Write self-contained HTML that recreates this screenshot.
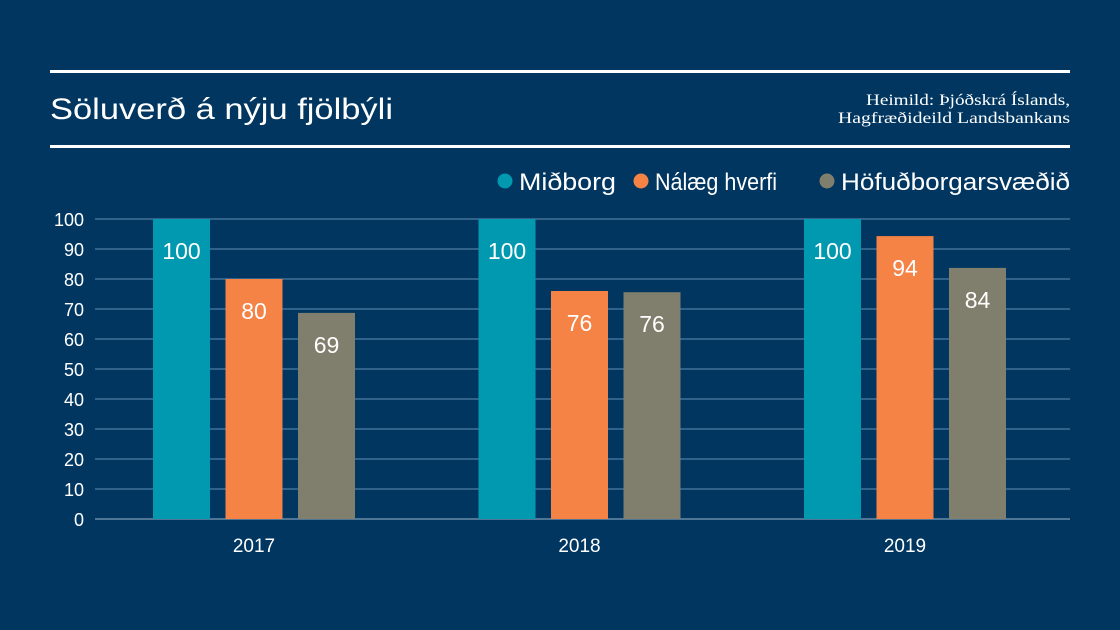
<!DOCTYPE html>
<html><head><meta charset="utf-8"><style>
html,body{margin:0;padding:0;background:#003660;}
body{width:1120px;height:630px;overflow:hidden;position:relative;font-family:"Liberation Sans","DejaVu Sans",sans-serif;color:#fff;}
</style></head><body>
<svg width="1120" height="630" style="position:absolute;left:0;top:0">
<rect width="1120" height="630" fill="#003660"/>
<rect x="50" y="70" width="1020" height="3" fill="#fff"/>
<rect x="50" y="145" width="1020" height="3" fill="#fff"/>
<text x="50" y="119" font-size="30" fill="#fff" textLength="343" lengthAdjust="spacingAndGlyphs">Söluverð á nýju fjölbýli</text>
<text x="1070" y="105" font-size="16" fill="#fff" text-anchor="end" textLength="204" lengthAdjust="spacingAndGlyphs" font-family="Liberation Serif, serif">Heimild: Þjóðskrá Íslands,</text>
<text x="1070" y="123" font-size="16" fill="#fff" text-anchor="end" textLength="232" lengthAdjust="spacingAndGlyphs" font-family="Liberation Serif, serif">Hagfræðideild Landsbankans</text>
<g id="legend"></g>
<g id="grid"></g>
<g id="bars"></g>
<g id="xaxis"></g>
</svg>
<script>
const categories=["2017","2018","2019"];
const seriesNames=["Miðborg","Nálæg hverfi","Höfuðborgarsvæðið"];
const midborg=[100,100,100];
const nalaeg=[80,76,94.3];
const hofud=[68.7,75.6,83.7];
const yTicks=[0,10,20,30,40,50,60,70,80,90,100];
const colors=["#0099b0","#f58346","#807e6c"];
const series=[midborg,nalaeg,hofud];
const NS="http://www.w3.org/2000/svg";
function y(v){return 519-v*3;}
function xc(i){return 254+i*325.5;}
function mk(t,a,p){const e=document.createElementNS(NS,t);for(const k in a)e.setAttribute(k,a[k]);p.appendChild(e);return e;}
const grid=document.getElementById('grid');
yTicks.forEach(t=>{
 const l=mk('rect',{x:95,y:y(t)-0.5,width:975,height:1,fill:t===0?'#9fb6cc':'#5f8fb5'},grid);
 
 
 const tx=mk('text',{x:84,y:y(t)+7,'font-size':18,fill:'#fff','text-anchor':'end'},grid);
 tx.textContent=t;
 
 
});
const bars=document.getElementById('bars');
const bw=57, step=72.5;
categories.forEach((c,i)=>{
 series.forEach((s,j)=>{
  const x=xc(i)+(j-1)*step-bw/2;
  const r=mk('rect',{x:x,y:y(s[i]),width:bw,height:s[i]*3,fill:colors[j]},bars);
  
  
  const t=mk('text',{x:x+bw/2,y:y(s[i])+40,'font-size':23,fill:'#fff','text-anchor':'middle'},bars);
  t.textContent=Math.round(s[i]);
  
  
 });
 const xt=mk('text',{x:xc(i),y:552,'font-size':19,fill:'#fff','text-anchor':'middle'},document.getElementById('xaxis'));
 xt.textContent=c;
 
 
});
const leg=document.getElementById('legend');
const lx=[505,641,827];
const lw=[97,122,229];
seriesNames.forEach((n,j)=>{
 const c=mk('circle',{cx:lx[j],cy:181,r:7.5,fill:colors[j]},leg);
 
 
 const t=mk('text',{x:lx[j]+14,y:190,'font-size':24,fill:'#fff',textLength:lw[j],lengthAdjust:'spacingAndGlyphs'},leg);
 t.textContent=n;
 
 
});
</script>
</body></html>
